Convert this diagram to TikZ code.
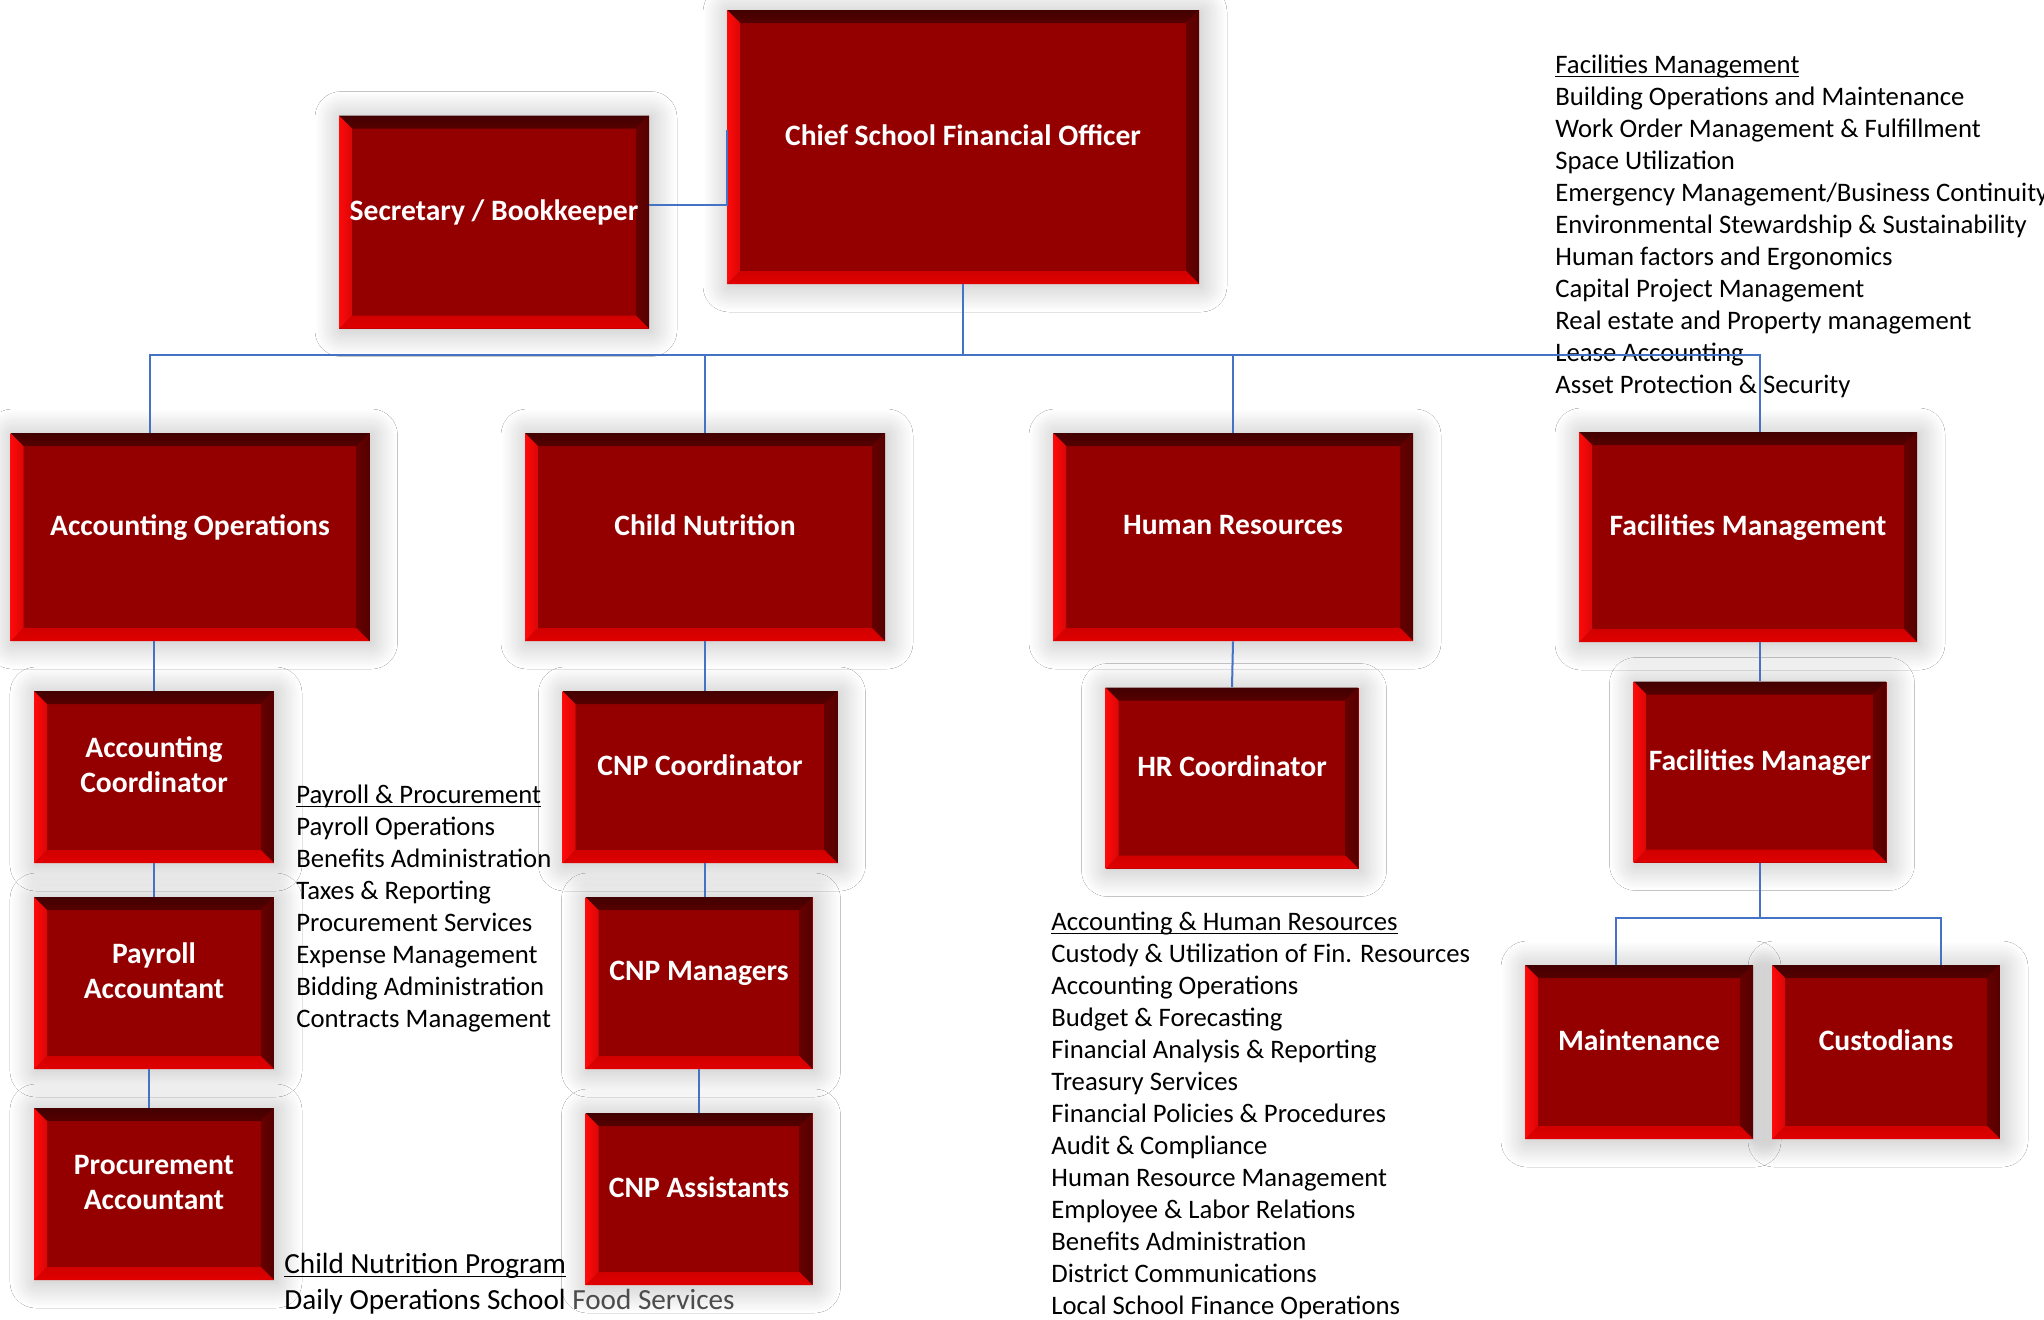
\documentclass[tikz,border=0pt]{standalone}
\usepackage{fontspec}
\setmainfont{Carlito}
\usetikzlibrary{shadows.blur}

\definecolor{boxRed}{HTML}{940000}
\definecolor{bevelTop}{HTML}{420000}
\definecolor{bevelRight}{HTML}{560000}
\definecolor{bevelBottom}{HTML}{E00000}
\definecolor{bevelLeft}{HTML}{FF0A0A}
\definecolor{lineBlue}{HTML}{4472C4}

\begin{document}
\begin{tikzpicture}[x = 0.5pt, y = -0.5pt]
	\tikzstyle{boxStyle} = [rectangle, inner sep = 0pt, fill = boxRed, text = white, align = center,
		font = \bfseries\fontsize{14.8}{17.5}\selectfont, text depth = 12pt,
		blur shadow = {shadow xshift = 1pt, shadow yshift = -1pt, shadow blur radius = 13pt, shadow blur steps = 40, shadow opacity = 28},
		path picture = {
			\coordinate (pa) at (path picture bounding box.south west);
			\coordinate (pb) at (path picture bounding box.north east);
			\coordinate (pc) at (path picture bounding box.north west);
			\coordinate (pd) at (path picture bounding box.south east);
			\shade[top color = bevelTop, bottom color = bevelTop!75!boxRed] (pc) -- (pb) -- ([shift = {(-6.5pt,-6.5pt)}]pb) -- ([shift = {(6.5pt,-6.5pt)}]pc) -- cycle;
			\shade[left color = bevelRight!75!boxRed, right color = bevelRight] (pb) -- (pd) -- ([shift = {(-6.5pt,6.5pt)}]pd) -- ([shift = {(-6.5pt,-6.5pt)}]pb) -- cycle;
			\shade[top color = bevelBottom!80!boxRed, bottom color = bevelBottom] (pd) -- (pa) -- ([shift = {(6.5pt,6.5pt)}]pa) -- ([shift = {(-6.5pt,6.5pt)}]pd) -- cycle;
			\shade[left color = bevelLeft, right color = bevelLeft!65!boxRed] (pa) -- (pc) -- ([shift = {(6.5pt,-6.5pt)}]pc) -- ([shift = {(6.5pt,6.5pt)}]pa) -- cycle;
		}]
	\tikzstyle{listStyle} = [anchor = north west, inner sep = 0pt, align = left, text = black, font = \fontsize{13.35}{16}\selectfont]
	\tikzstyle{EdgeStyle} = [draw = lineBlue, line width = 1pt]
	\useasboundingbox (0,0) rectangle (2044,1319);
	\fill[white] (0,0) rectangle (2044,1319);
	\node[boxStyle, minimum width = 236pt, minimum height = 137pt] (v0) at (963,147) {Chief School Financial Officer};
	\node[boxStyle, minimum width = 155pt, minimum height = 106.5pt] (v1) at (494,222) {Secretary / Bookkeeper};
	\node[boxStyle, minimum width = 179.5pt, minimum height = 104pt] (v2) at (190,537) {Accounting Operations};
	\node[boxStyle, minimum width = 180pt, minimum height = 104pt] (v3) at (705,537) {Child Nutrition};
	\node[boxStyle, minimum width = 180pt, minimum height = 104pt] (v4) at (1233,537) {Human Resources};
	\node[boxStyle, minimum width = 169pt, minimum height = 105pt] (v5) at (1748,537) {Facilities Management};
	\node[boxStyle, minimum width = 120pt, minimum height = 86pt] (v6) at (154,777) {Accounting\\Coordinator};
	\node[boxStyle, minimum width = 120pt, minimum height = 86pt] (v7) at (154,983) {Payroll\\Accountant};
	\node[boxStyle, minimum width = 120pt, minimum height = 86pt] (v8) at (154,1194) {Procurement\\Accountant};
	\node[boxStyle, minimum width = 137.5pt, minimum height = 86pt] (v9) at (700,777) {CNP Coordinator};
	\node[boxStyle, minimum width = 113.5pt, minimum height = 86pt] (v10) at (699,983) {CNP Managers};
	\node[boxStyle, minimum width = 113.5pt, minimum height = 86pt] (v11) at (699,1199) {CNP Assistants};
	\node[boxStyle, minimum width = 126.5pt, minimum height = 90.5pt] (v12) at (1232,778) {HR Coordinator};
	\node[boxStyle, minimum width = 126.5pt, minimum height = 90.5pt] (v13) at (1760,772) {Facilities Manager};
	\node[boxStyle, minimum width = 114pt, minimum height = 87pt] (v14) at (1639,1052) {Maintenance};
	\node[boxStyle, minimum width = 114pt, minimum height = 87pt] (v15) at (1886,1052) {Custodians};
	\node[listStyle] (t0) at (1555,55) {\underbar{Facilities Management}\\Building Operations and Maintenance\\Work Order Management \& Fulfillment\\Space Utilization\\Emergency Management/Business Continuity\\Environmental Stewardship \& Sustainability\\Human factors and Ergonomics\\Capital Project Management\\Real estate and Property management\\Lease Accounting\\Asset Protection \& Security};
	\node[listStyle] (t1) at (296,785) {\underbar{Payroll \& Procurement}\\Payroll Operations\\Benefits Administration\\Taxes \& Reporting\\Procurement Services\\Expense Management\\Bidding Administration\\Contracts Management};
	\node[listStyle] (t2) at (1051,912) {\underbar{Accounting \& Human Resources}\\Custody \& Utilization of Fin. Resources\\Accounting Operations\\Budget \& Forecasting\\Financial Analysis \& Reporting\\Treasury Services\\Financial Policies \& Procedures\\Audit \& Compliance\\Human Resource Management\\Employee \& Labor Relations\\Benefits Administration\\District Communications\\Local School Finance Operations};
	\node[listStyle, font = \fontsize{14.6}{17.8}\selectfont] (t3) at (284,1253) {\underbar{Child Nutrition Program}\\Daily Operations School {\color{black!70}Food Services}};
	\coordinate (b0) at (963,355);
	\coordinate (b1) at (1760,918);
	\draw[EdgeStyle] ([yshift = -45pt]v1.north east) -| ([yshift = -60pt]v0.north west);
	\draw[EdgeStyle] (v0.south) -- (b0);
	\draw[EdgeStyle] (b0) -| ([xshift = -20pt]v2.north);
	\draw[EdgeStyle] (b0) -| (v3.north);
	\draw[EdgeStyle] (b0) -| (v4.north);
	\draw[EdgeStyle] (b0) -| (v5.north -| v13.north);
	\draw[EdgeStyle] (v2.south -| v6.north) -- (v6.north);
	\draw[EdgeStyle] (v6.south) -- (v7.north);
	\draw[EdgeStyle] ([xshift = -2.5pt]v7.south) -- ([xshift = -2.5pt]v8.north);
	\draw[EdgeStyle] (v3.south) -- (v3.south |- v9.north);
	\draw[EdgeStyle] (v9.south -| v3.south) -- (v3.south |- v10.north);
	\draw[EdgeStyle] (v10.south) -- (v11.north);
	\draw[EdgeStyle] (v4.south) -- (v12.north);
	\draw[EdgeStyle] (v5.south -| v13.north) -- (v13.north);
	\draw[EdgeStyle] (v13.south) -- (b1);
	\draw[EdgeStyle] (b1) -| ([xshift = -11.5pt]v14.north);
	\draw[EdgeStyle] (b1) -| ([xshift = 27.5pt]v15.north);
\end{tikzpicture}
\end{document}
